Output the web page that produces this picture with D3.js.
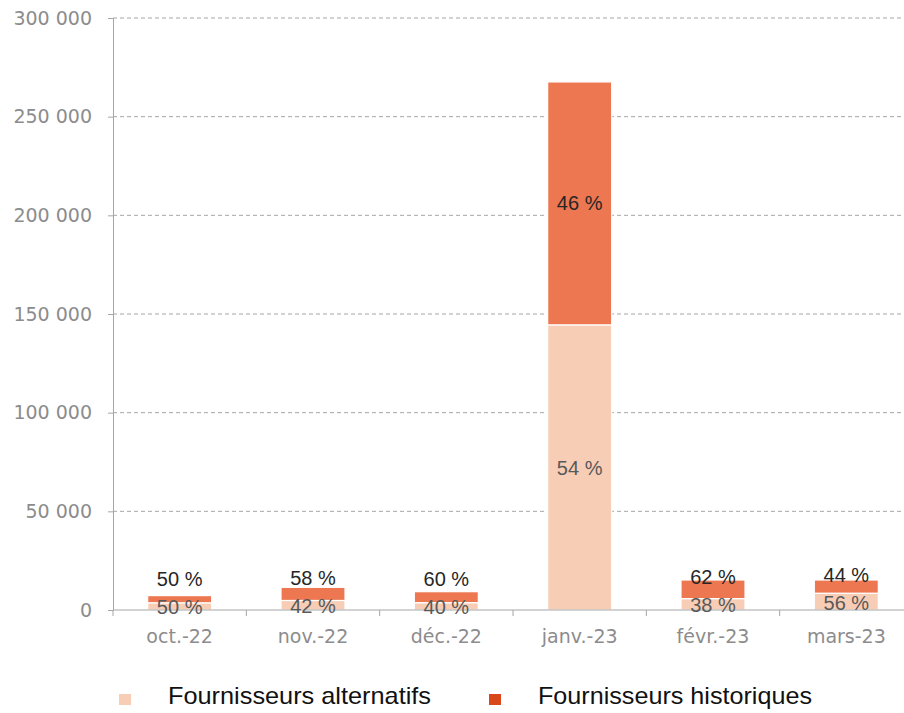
<!DOCTYPE html>
<html><head><meta charset="utf-8">
<script src="https://cdn.jsdelivr.net/npm/d3@7"></script>
<style>body{margin:0;background:#fff}</style>
</head><body>
<svg id="c" width="904" height="713"></svg>
<script>
const categories = ["oct.-22","nov.-22","déc.-22","janv.-23","févr.-23","mars-23"];
const alternatifs = [3650, 4830, 3710, 144500, 5780, 8510];
const historiques = [3650, 6670, 5570, 123100, 9420, 6690];
const pctAlternatifs = ["50 %","42 %","40 %","54 %","38 %","56 %"];
const pctHistoriques = ["50 %","58 %","60 %","46 %","62 %","44 %"];
const yTicks = [0, 50000, 100000, 150000, 200000, 250000, 300000];
const seriesNames = ["Fournisseurs alternatifs","Fournisseurs historiques"];

(function(){
const svg = d3.select("#c");
const mLeft = 113, mRight = 913, mTop = 18, mBottom = 610;
const x = d3.scaleBand().domain(categories).range([mLeft, mRight]).paddingInner(0.52).paddingOuter(0.26);
const xb = d3.scaleBand().domain(categories).range([mLeft, mRight]);
const y = d3.scaleLinear().domain([0, 300000]).range([mBottom, mTop]);
const fmt = v => d3.format(",")(v).replace(/,/g, " ");

// gridlines
svg.append("g").selectAll("line").data(yTicks.filter(d => d > 0)).join("line")
  .attr("x1", mLeft).attr("x2", 902).attr("y1", d => y(d)).attr("y2", d => y(d))
  .attr("stroke", "#a6a6a6").attr("stroke-width", 1).attr("stroke-dasharray", "4,3");

// y axis
const ya = svg.append("g").attr("transform", `translate(${mLeft},0)`)
  .call(d3.axisLeft(y).tickValues(yTicks).tickFormat(fmt).tickSize(5).tickPadding(16));
ya.select(".domain").attr("stroke", "#a6a6a6");
ya.selectAll(".tick line").attr("stroke", "#a6a6a6");
ya.selectAll("text").attr("font-family", "DejaVu Sans").attr("font-size", 19).attr("fill", "#8c8c8c");

// bars
const stack = categories.map((c, i) => ({c, a: alternatifs[i], h: historiques[i], pa: pctAlternatifs[i], ph: pctHistoriques[i]}));
const g = svg.append("g");
g.selectAll(".alt").data(stack).join("rect")
  .attr("x", d => x(d.c)).attr("width", x.bandwidth())
  .attr("y", d => y(d.a)).attr("height", d => y(0) - y(d.a))
  .attr("fill", "#f8cdb6").attr("stroke", "#fff").attr("stroke-width", 1.2);
g.selectAll(".his").data(stack).join("rect")
  .attr("x", d => x(d.c)).attr("width", x.bandwidth())
  .attr("y", d => y(d.a + d.h)).attr("height", d => y(d.a) - y(d.a + d.h))
  .attr("fill", "#ec7751").attr("stroke", "#fff").attr("stroke-width", 1.2);

// x axis
const xa = svg.append("g").attr("transform", `translate(0,${mBottom})`);
xa.append("line").attr("x1", mLeft).attr("x2", mRight).attr("stroke", "#a6a6a6");
xa.selectAll(".tk").data(categories).join("line")
  .attr("x1", d => xb(d)).attr("x2", d => xb(d)).attr("y1", 0).attr("y2", 6).attr("stroke", "#a6a6a6");
xa.selectAll("text").data(categories).join("text")
  .attr("x", d => xb(d) + xb.bandwidth() / 2).attr("y", 26).attr("dy", "0.35em")
  .attr("text-anchor", "middle").attr("font-family", "DejaVu Sans").attr("font-size", 19)
  .attr("fill", "#8c8c8c").text(d => d);

// data labels
const lab = svg.append("g").attr("font-family", "Liberation Sans, Arial").attr("font-size", 20).attr("text-anchor", "middle");
stack.forEach(d => {
  const cx = x(d.c) + x.bandwidth() / 2;
  const yA = (y(0) + y(d.a)) / 2 + 1;
  let yH = (y(d.a) + y(d.a + d.h)) / 2;
  yH = Math.min(yH, yA - 28);
  lab.append("text").attr("x", cx).attr("y", yA).attr("dy", "0.35em").attr("fill", "#595959").text(d.pa);
  lab.append("text").attr("x", cx).attr("y", yH).attr("dy", "0.35em").attr("fill", "#262626").text(d.ph);
});

// legend
const legendColors = ["#f8cdb6", "#d9481b"];
const lx = [119, 489];
const lw = [263, 274];
const lg = svg.append("g");
seriesNames.forEach((n, i) => {
  lg.append("rect").attr("x", lx[i]).attr("y", 694).attr("width", 12).attr("height", 11).attr("fill", legendColors[i]);
  lg.append("text").attr("x", lx[i] + 49).attr("y", 704).attr("font-family", "Liberation Sans, Arial")
    .attr("font-size", 24).attr("fill", "#111")
    .attr("textLength", lw[i]).attr("lengthAdjust", "spacingAndGlyphs").text(n);
});
})();
</script>
</body></html>
